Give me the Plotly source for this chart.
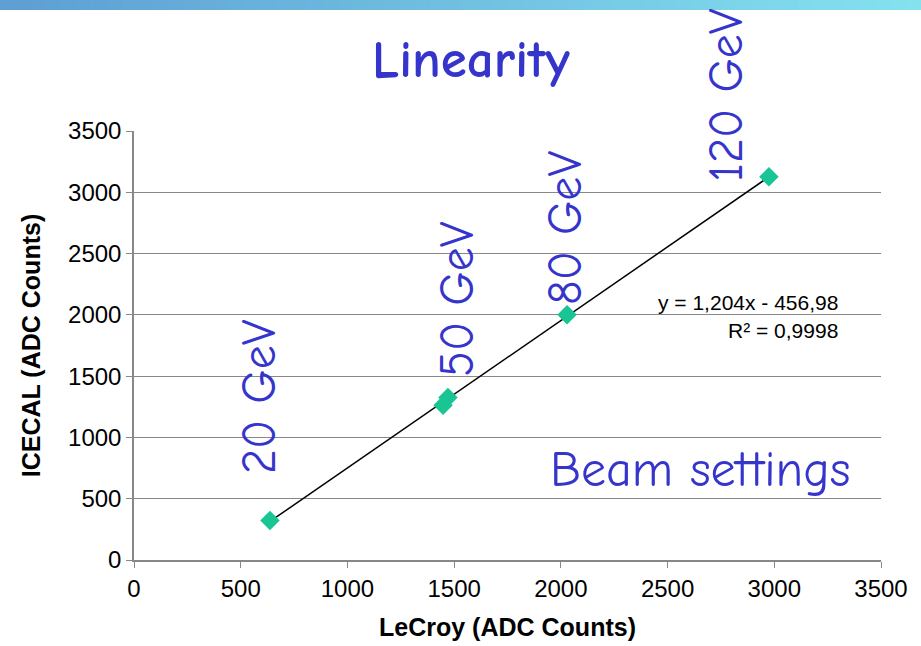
import numpy as np
import plotly.graph_objects as go

# Data
lecroy = [637, 1448, 1471, 2029, 2975]
icecal = [322, 1262, 1326, 2000, 3126]
energy_labels = ["20 GeV", "50 GeV", "80 GeV", "120 GeV"]
label_px = [259, 457, 565, 727]      # label centre, pixels
label_py = [397, 299, 228, 95]
equation = "y = 1,204x - 456,98"
r2_text = "R² = 0,9998"
x_ticks = [0, 500, 1000, 1500, 2000, 2500, 3000, 3500]
y_ticks = [0, 500, 1000, 1500, 2000, 2500, 3000, 3500]

slope, intercept = np.polyfit(lecroy, icecal, 1)
fit_x = [min(lecroy), max(lecroy)]
fit_y = [slope * v + intercept for v in fit_x]

L, R, T, B = 134, 40, 131, 86
W, H = 921, 646
PW, PH = W - L - R, H - T - B


def px(x):
    return (x - L) / PW


def py(y):
    return (H - B - y) / PH


fig = go.Figure()
fig.add_trace(go.Scatter(x=fit_x, y=fit_y, mode="lines",
                         line=dict(color="black", width=1.5), showlegend=False,
                         hoverinfo="skip"))
fig.add_trace(go.Scatter(x=lecroy, y=icecal, mode="markers",
                         marker=dict(symbol="diamond", size=15, color="#19C693"),
                         showlegend=False, cliponaxis=False))

hand = "Comic Sans MS, Comic Neue, Lato, sans-serif"
blue = "#3535CC"
for t, lx, ly in zip(energy_labels, label_px, label_py):
    fig.add_annotation(xref="paper", yref="paper", x=px(lx), y=py(ly), text=t,
                       textangle=-90, showarrow=False, xanchor="center", yanchor="middle",
                       font=dict(family=hand, size=48, color=blue))

fig.add_annotation(xref="paper", yref="paper", x=px(471), y=py(60),
                   text="<b>Linearity</b>", showarrow=False, xanchor="center", yanchor="middle",
                   font=dict(family=hand, size=53, color=blue))
fig.add_annotation(xref="paper", yref="paper", x=px(700), y=py(470),
                   text="Beam settings", showarrow=False, xanchor="center", yanchor="middle",
                   font=dict(family=hand, size=50, color=blue))
fig.add_annotation(xref="paper", yref="paper", x=px(840), y=py(302),
                   xanchor="right", yanchor="middle", text=equation, showarrow=False,
                   font=dict(family="Liberation Sans, Arial", size=21, color="black"))
fig.add_annotation(xref="paper", yref="paper", x=px(840), y=py(330),
                   xanchor="right", yanchor="middle", text=r2_text, showarrow=False,
                   font=dict(family="Liberation Sans, Arial", size=21, color="black"))

# top gradient bar
n = 60
c0 = np.array([0x5E, 0x9F, 0xD4])
c1 = np.array([0x84, 0xE2, 0xEF])
for i in range(n):
    c = c0 + (c1 - c0) * i / (n - 1)
    fig.add_shape(type="rect", xref="paper", yref="paper",
                  x0=px(i * W / n), x1=px((i + 1.05) * W / n),
                  y0=py(10), y1=py(0),
                  fillcolor="rgb(%d,%d,%d)" % tuple(c.astype(int)), line=dict(width=0),
                  layer="above")

tick_font = dict(family="Liberation Sans, Arial", size=24, color="black")
title_font = dict(family="Liberation Sans, Arial", size=25, color="black")
fig.update_layout(
    width=W, height=H,
    margin=dict(l=L, r=R, t=T, b=B),
    plot_bgcolor="white", paper_bgcolor="white",
    xaxis=dict(range=[0, 3500], tickvals=x_ticks, showgrid=False, zeroline=False,
               showline=True, linecolor="#888888", linewidth=1.5,
               ticks="outside", ticklen=6, tickcolor="#888888",
               tickfont=tick_font, automargin=False,
               title=dict(text="<b>LeCroy (ADC Counts)</b>", font=title_font, standoff=18)),
    yaxis=dict(range=[0, 3500], tickvals=y_ticks, showgrid=True, gridcolor="#888888",
               gridwidth=1.3, zeroline=False,
               showline=True, linecolor="#888888", linewidth=1.5,
               ticks="outside", ticklen=6, tickcolor="#888888",
               tickfont=tick_font, automargin=False,
               title=dict(text="<b>ICECAL (ADC Counts)</b>", font=title_font, standoff=20)),
)
fig.write_html("out.html")
